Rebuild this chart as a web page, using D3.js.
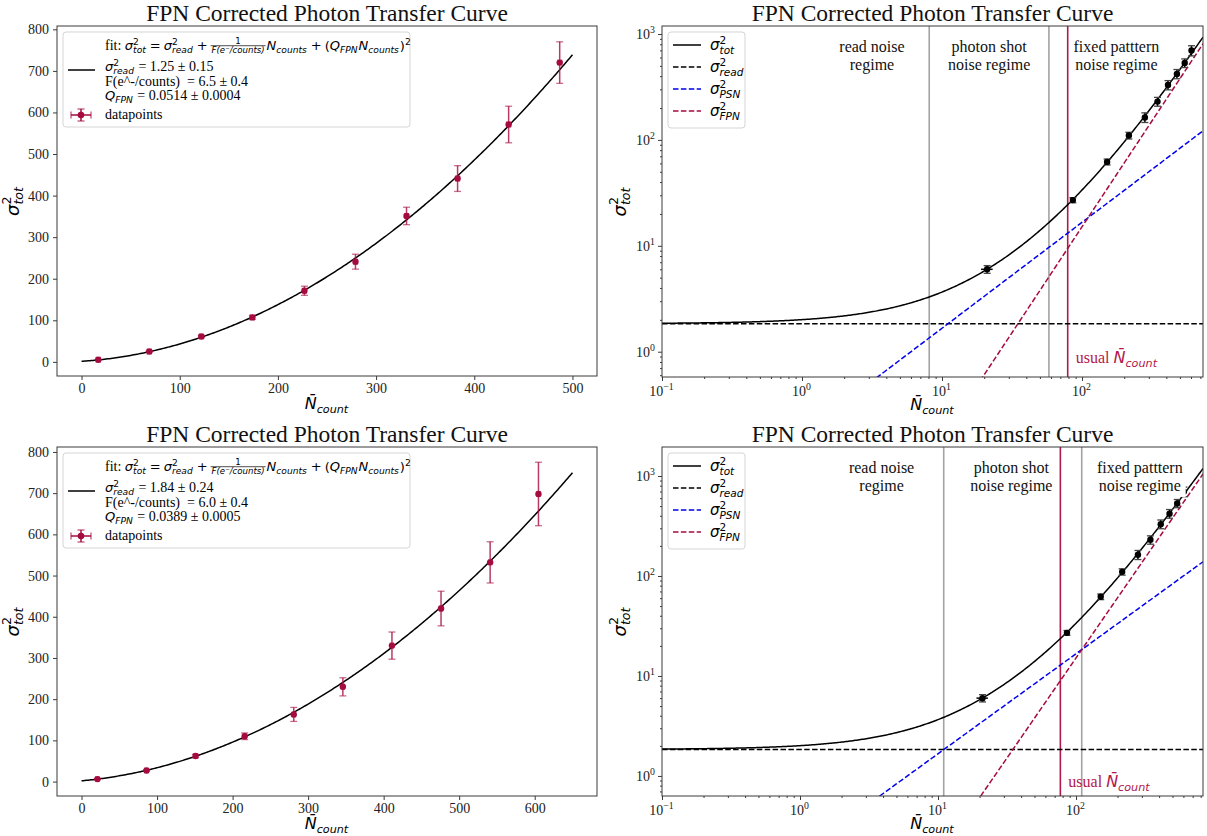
<!DOCTYPE html>
<html><head><meta charset="utf-8">
<script src="https://cdn.jsdelivr.net/npm/d3@7"></script>
<style>body{margin:0;background:#fff;} svg{display:block}</style>
</head><body><svg id="c" width="1207" height="836"></svg>
<script>
// ---------------- data ----------------
const nTop   = [17, 69, 122, 174, 227, 279, 331, 383, 435, 487];
const varTop = [5, 25, 61, 107, 171, 241, 351, 441, 571, 720];
const errTop = [0.5, 1.5, 3, 5, 11, 18, 21, 31, 44, 50];
const nBot   = [21, 86, 151, 216, 281, 346, 411, 476, 541, 605];
const varBot = [6, 27, 62, 110, 163, 230, 330, 420, 532, 698];
const errBot = [0.5, 1.5, 4, 8, 17, 22, 33, 42, 50, 77];
const xErr   = [2, 2, 2, 2, 2, 2, 2, 2, 2, 2];
const readVar = [1.25, 1.84];
const gain    = [6.5, 6.0];
const qFpn    = [0.0514, 0.0389];
const readTxt = ["1.25 ± 0.15", "1.84 ± 0.24"];
const gainTxt = ["6.5 ± 0.4", "6.0 ± 0.4"];
const qTxt    = ["0.0514 ± 0.0004", "0.0389 ± 0.0005"];
const fitMax  = [500, 650];
const regimeBounds = [[8.1, 58], [11.0, 110]];
const usualN = [79, 77];
const usualLabelY = 0.78;
const regimeLabels = [["read noise", "regime"], ["photon shot", "noise regime"], ["fixed patttern", "noise regime"]];
const regimeLabelX = [[3.16, 21.7, 176], [3.9, 34, 290]];
const linTicksY = [0, 100, 200, 300, 400, 500, 600, 700, 800];
const linTicksX = [[0, 100, 200, 300, 400, 500], [0, 100, 200, 300, 400, 500, 600]];
const logExpX = [-1, 0, 1, 2];
const logExpY = [0, 1, 2, 3];
const titleText = "FPN Corrected Photon Transfer Curve";

// ---------------- setup ----------------
const svg = d3.select('#c');
const SERIF = "'Liberation Serif', 'Times New Roman', serif";
const MATH = "'DejaVu Sans', sans-serif";
const CRIM = '#a50b3e';
const TICK = 14;
const P = {
  TL: {l: 57, r: 597, t: 26, b: 376},
  BL: {l: 57, r: 597, t: 447, b: 796},
  TR: {l: 662, r: 1203, t: 26, b: 377},
  BR: {l: 662, r: 1203, t: 447, b: 796}
};

function rich(parent, x, y, items, size, opts = {}) {
  const g = parent.append('g');
  if (opts.fill) g.attr('fill', opts.fill);
  let cx = 0;
  const put = (t, px, py, sz, f) => g.append('text').attr('x', px).attr('y', py)
      .style('font-family', f === 's' ? SERIF : MATH)
      .style('font-style', f === 'i' ? 'italic' : 'normal')
      .style('font-size', sz + 'px').style('white-space', 'pre').text(t);
  const len = e => e.node().getComputedTextLength();
  for (const it of items) {
    if (it.gap) cx += it.gap;
    const sz = size * (it.k || 1);
    if (it.t !== undefined) cx += len(put(it.t, cx, 0, sz, it.f || 's'));
    if (it.sup !== undefined || it.sub !== undefined) {
      let w = 0;
      if (it.sup !== undefined) w = Math.max(w, len(put(it.sup, cx, -0.42 * sz, sz * 0.7, it.sf || 'r')));
      if (it.sub !== undefined) w = Math.max(w, len(put(it.sub, cx, 0.24 * sz, sz * 0.7, 'i')));
      cx += w + 1;
    }
    if (it.frac) {
      const fs = sz * 0.66;
      const en = put(it.frac[0], 0, -0.5 * sz, fs, 'r');
      const ed = put(it.frac[1], 0, 0.22 * sz, fs, 'i');
      const wn = len(en), wd = len(ed), W = Math.max(wn, wd) + 2;
      en.attr('x', cx + (W - wn) / 2);
      ed.attr('x', cx + (W - wd) / 2);
      g.append('line').attr('x1', cx).attr('x2', cx + W).attr('y1', -0.33 * sz).attr('y2', -0.33 * sz)
        .attr('stroke', '#000').attr('stroke-width', 0.7);
      cx += W + 1;
    }
  }
  const dx = opts.anchor === 'middle' ? cx / 2 : opts.anchor === 'end' ? cx : 0;
  g.attr('transform', `translate(${x},${y}) rotate(${opts.rot || 0}) translate(${-dx},0)`);
  return {g, width: cx};
}

function frame(p) {
  svg.append('rect').attr('x', p.l).attr('y', p.t).attr('width', p.r - p.l).attr('height', p.b - p.t)
    .attr('fill', 'none').attr('stroke', '#3a3a3a').attr('stroke-width', 1);
}
function clip(id, p) {
  svg.append('clipPath').attr('id', id).append('rect').attr('x', p.l).attr('y', p.t)
    .attr('width', p.r - p.l).attr('height', p.b - p.t);
}
function styleAxis(g) {
  g.select('.domain').remove();
  g.selectAll('.tick line').attr('stroke', '#3a3a3a');
  g.selectAll('text').style('font-family', SERIF).style('font-size', TICK + 'px').attr('fill', '#222');
}
function title(p) {
  svg.append('text').attr('x', (p.l + p.r) / 2).attr('y', p.t - 5).attr('text-anchor', 'middle')
    .style('font-family', SERIF).style('font-size', '23.5px').attr('fill', '#111').text(titleText);
}
function axisLabels(p, ylx) {
  rich(svg, (p.l + p.r) / 2, p.b + 33, [{t: 'N\u0304', f: 'i'}, {sub: 'count'}], 16, {anchor: 'middle'});
  rich(svg, ylx, (p.t + p.b) / 2, [{t: 'σ', f: 'i'}, {sup: '2', sub: 'tot'}], 18, {anchor: 'middle', rot: -90});
}

// ---------------- linear panels ----------------
function linPanel(p, idx, xd, yd, N, V, E) {
  const x = d3.scaleLinear().domain(xd).range([p.l, p.r]);
  const y = d3.scaleLinear().domain(yd).range([p.b, p.t]);
  const ax = svg.append('g').attr('transform', `translate(0,${p.b})`)
    .call(d3.axisBottom(x).tickValues(linTicksX[idx]).tickSize(4).tickPadding(3).tickFormat(d3.format('d')));
  styleAxis(ax);
  const ay = svg.append('g').attr('transform', `translate(${p.l},0)`)
    .call(d3.axisLeft(y).tickValues(linTicksY).tickSize(4).tickPadding(4).tickFormat(d3.format('d')));
  styleAxis(ay);
  const f = n => readVar[idx] + n / gain[idx] + Math.pow(qFpn[idx] * n, 2);
  const grid = d3.range(0, 301).map(i => i * fitMax[idx] / 300);
  svg.append('path').datum(grid).attr('fill', 'none').attr('stroke', '#000').attr('stroke-width', 1.5)
    .attr('d', d3.line().x(d => x(d)).y(d => y(f(d))));
  const g = svg.append('g');
  N.forEach((n, i) => {
    const cx = x(n), cy = y(V[i]);
    const y1 = y(V[i] - E[i]), y2 = y(V[i] + E[i]);
    const x1 = x(n - xErr[i]), x2 = x(n + xErr[i]);
    g.append('line').attr('x1', cx).attr('x2', cx).attr('y1', y1).attr('y2', y2).attr('stroke', CRIM).attr('stroke-width', 1.5).attr('stroke-opacity', 0.8);
    g.append('line').attr('x1', x1).attr('x2', x2).attr('y1', cy).attr('y2', cy).attr('stroke', CRIM).attr('stroke-width', 1.5).attr('stroke-opacity', 0.8);
    [y1, y2].forEach(yy => g.append('line').attr('x1', cx - 3.5).attr('x2', cx + 3.5).attr('y1', yy).attr('y2', yy).attr('stroke', CRIM).attr('stroke-width', 1.3).attr('stroke-opacity', 0.6));
    [x1, x2].forEach(xx => g.append('line').attr('x1', xx).attr('x2', xx).attr('y1', cy - 3).attr('y2', cy + 3).attr('stroke', CRIM).attr('stroke-width', 1.2).attr('stroke-opacity', 0.6));
    g.append('circle').attr('cx', cx).attr('cy', cy).attr('r', 3.2).attr('fill', CRIM);
  });
  frame(p);
  title(p);
  axisLabels(p, 19);
  const lx = p.l + 6, ly = p.t + 6;
  svg.append('rect').attr('x', lx).attr('y', ly).attr('width', 347).attr('height', 95).attr('rx', 3)
    .attr('fill', '#fff').attr('fill-opacity', 0.8).attr('stroke', '#d5d5d5');
  svg.append('line').attr('x1', lx + 5).attr('x2', lx + 32).attr('y1', ly + 38).attr('y2', ly + 38).attr('stroke', '#000').attr('stroke-width', 1.5);
  const hx = lx + 18, hy = ly + 83;
  svg.append('line').attr('x1', hx).attr('x2', hx).attr('y1', hy - 6).attr('y2', hy + 6).attr('stroke', CRIM).attr('stroke-width', 1.5);
  svg.append('line').attr('x1', hx - 10).attr('x2', hx + 10).attr('y1', hy).attr('y2', hy).attr('stroke', CRIM).attr('stroke-width', 1.5);
  [hy - 6, hy + 6].forEach(yy => svg.append('line').attr('x1', hx - 3.5).attr('x2', hx + 3.5).attr('y1', yy).attr('y2', yy).attr('stroke', CRIM).attr('stroke-opacity', 0.7).attr('stroke-width', 1.3));
  [hx - 10, hx + 10].forEach(xx => svg.append('line').attr('x1', xx).attr('x2', xx).attr('y1', hy - 3.5).attr('y2', hy + 3.5).attr('stroke', CRIM).attr('stroke-opacity', 0.7).attr('stroke-width', 1.3));
  svg.append('circle').attr('cx', hx).attr('cy', hy).attr('r', 3.3).attr('fill', CRIM);
  const tx = lx + 42, fs = 14, mk = 0.93;
  rich(svg, tx, ly + 18, [
    {t: 'fit: ', f: 's'}, {t: 'σ', f: 'i', k: mk}, {sup: '2', sub: 'tot', k: mk}, {gap: 3}, {t: '=', f: 'r', k: mk}, {gap: 3},
    {t: 'σ', f: 'i', k: mk}, {sup: '2', sub: 'read', k: mk}, {gap: 3}, {t: '+', f: 'r', k: mk}, {gap: 3},
    {frac: ['1', 'F(e⁻/counts)'], k: mk}, {t: 'N', f: 'i', k: mk}, {sub: 'counts', k: mk}, {gap: 3}, {t: '+', f: 'r', k: mk}, {gap: 3}, {t: '(', f: 'r', k: mk},
    {t: 'Q', f: 'i', k: mk}, {sub: 'FPN', k: mk}, {t: 'N', f: 'i', k: mk}, {sub: 'counts', k: mk}, {t: ')', f: 'r', k: mk}, {sup: '2', k: mk}
  ], fs);
  rich(svg, tx, ly + 39, [{t: 'σ', f: 'i', k: mk}, {sup: '2', sub: 'read', k: mk}, {t: ' = ' + readTxt[idx], f: 's'}], fs);
  rich(svg, tx, ly + 54, [{t: 'F(e^-/counts)  = ' + gainTxt[idx], f: 's'}], fs);
  rich(svg, tx, ly + 68, [{t: 'Q', f: 'i', k: mk}, {sub: 'FPN', k: mk}, {t: ' = ' + qTxt[idx], f: 's'}], fs);
  rich(svg, tx, ly + 87, [{t: 'datapoints', f: 's'}], fs);
}

// ---------------- log panels ----------------
function logPanel(p, idx, xd, yd, cid) {
  const x = d3.scaleLog().domain(xd).range([p.l, p.r]);
  const y = d3.scaleLog().domain(yd).range([p.b, p.t]);
  clip(cid, p);
  const minorX = [], minorY = [];
  for (let e = -2; e <= 3; e++) for (let m = 2; m <= 9; m++) {
    const v = m * Math.pow(10, e);
    if (v >= xd[0] && v <= xd[1]) minorX.push(v);
    if (v >= yd[0] && v <= yd[1]) minorY.push(v);
  }
  const majX = logExpX.map(e => Math.pow(10, e));
  const majY = logExpY.map(e => Math.pow(10, e));
  [[majX, 4], [minorX, 2]].forEach(([vals, s]) => {
    const a = svg.append('g').attr('transform', `translate(0,${p.b})`).call(d3.axisBottom(x).tickValues(vals).tickSize(s).tickFormat(''));
    styleAxis(a);
  });
  [[majY, 4], [minorY, 2]].forEach(([vals, s]) => {
    const a = svg.append('g').attr('transform', `translate(${p.l},0)`).call(d3.axisLeft(y).tickValues(vals).tickSize(s).tickFormat(''));
    styleAxis(a);
  });
  const expStr = e => e < 0 ? '−' + (-e) : '' + e;
  logExpX.forEach(e => rich(svg, x(Math.pow(10, e)), p.b + 19, [{t: '10', f: 's'}, {sup: expStr(e), sf: 's'}], TICK, {anchor: 'middle', fill: '#222'}));
  logExpY.forEach(e => rich(svg, p.l - 6, y(Math.pow(10, e)) + 5, [{t: '10', f: 's'}, {sup: expStr(e), sf: 's'}], TICK, {anchor: 'end', fill: '#222'}));

  const gc = svg.append('g').attr('clip-path', `url(#${cid})`);
  regimeBounds[idx].forEach(v => gc.append('line').attr('x1', x(v)).attr('x2', x(v)).attr('y1', p.t).attr('y2', p.b)
    .attr('stroke', '#a3a3a3').attr('stroke-width', 1.6));
  gc.append('line').attr('x1', x(usualN[idx])).attr('x2', x(usualN[idx])).attr('y1', p.t).attr('y2', p.b)
    .attr('stroke', '#b3174b').attr('stroke-width', 1.6);
  const k = 1;
  const lg = d3.range(0, 401).map(i => Math.pow(10, Math.log10(xd[0]) + i * (Math.log10(xd[1]) - Math.log10(xd[0])) / 400));
  const ln = fn => d3.line().x(d => x(d)).y(d => y(Math.max(fn(d), 1e-6)));
  gc.append('path').datum(lg).attr('fill', 'none').attr('stroke', '#000').attr('stroke-width', 1.5).attr('stroke-dasharray', '5.5,2.4')
    .attr('d', ln(() => readVar[k]));
  gc.append('path').datum(lg).attr('fill', 'none').attr('stroke', '#0000ee').attr('stroke-width', 1.5).attr('stroke-dasharray', '5.5,2.4')
    .attr('d', ln(n => n / gain[k]));
  gc.append('path').datum(lg).attr('fill', 'none').attr('stroke', CRIM).attr('stroke-width', 1.5).attr('stroke-dasharray', '5.5,2.4')
    .attr('d', ln(n => Math.pow(qFpn[k] * n, 2)));
  gc.append('path').datum(lg).attr('fill', 'none').attr('stroke', '#000').attr('stroke-width', 1.5)
    .attr('d', ln(n => readVar[k] + n / gain[k] + Math.pow(qFpn[k] * n, 2)));
  nBot.forEach((n, i) => {
    const cx = x(n), cy = y(varBot[i]);
    const y1 = y(varBot[i] - errBot[i]), y2 = y(varBot[i] + errBot[i]);
    gc.append('line').attr('x1', cx).attr('x2', cx).attr('y1', y1).attr('y2', y2).attr('stroke', '#000').attr('stroke-width', 1.5);
    gc.append('line').attr('x1', x(n - xErr[i])).attr('x2', x(n + xErr[i])).attr('y1', cy).attr('y2', cy).attr('stroke', '#000').attr('stroke-width', 1.5);
    [y1, y2].forEach(yy => gc.append('line').attr('x1', cx - 3.5).attr('x2', cx + 3.5).attr('y1', yy).attr('y2', yy).attr('stroke', '#444').attr('stroke-width', 1.3));
    gc.append('circle').attr('cx', cx).attr('cy', cy).attr('r', 3.2).attr('fill', '#000');
  });
  regimeLabels.forEach((lab, j) => {
    const cx = x(regimeLabelX[idx][j]);
    const cy = p.t + 0.06 * (p.b - p.t);
    const t1 = svg.append('text').attr('x', cx).attr('y', cy + 5).attr('text-anchor', 'middle')
      .style('font-family', SERIF).style('font-size', '16px').attr('fill', '#111').text(lab[0]);
    const t2 = svg.append('text').attr('x', cx).attr('y', cy + 23).attr('text-anchor', 'middle')
      .style('font-family', SERIF).style('font-size', '16px').attr('fill', '#111').text(lab[1]);
    const w = Math.max(t1.node().getComputedTextLength(), t2.node().getComputedTextLength());
    svg.insert('rect', () => t1.node()).attr('x', cx - w / 2 - 3).attr('y', cy - 10).attr('width', w + 6).attr('height', 39).attr('fill', '#fff');
  });
  rich(svg, x(usualN[idx]) + 8, y(usualLabelY), [{t: 'usual ', f: 's'}, {t: 'N\u0304', f: 'i'}, {sub: 'count'}], 16, {fill: '#b3174b'});
  frame(p);
  title(p);
  axisLabels(p, 626);
  const lx = p.l + 6, ly = p.t + 6;
  svg.append('rect').attr('x', lx).attr('y', ly).attr('width', 77).attr('height', 96).attr('rx', 3)
    .attr('fill', '#fff').attr('fill-opacity', 0.8).attr('stroke', '#d5d5d5');
  const ent = [['#000', null, 'tot'], ['#000', '5.5,2.4', 'read'], ['#0000ee', '5.5,2.4', 'PSN'], [CRIM, '5.5,2.4', 'FPN']];
  ent.forEach((e, j) => {
    const cy = ly + 13 + j * 22;
    const l = svg.append('line').attr('x1', lx + 5).attr('x2', lx + 33).attr('y1', cy).attr('y2', cy).attr('stroke', e[0]).attr('stroke-width', 1.5);
    if (e[1]) l.attr('stroke-dasharray', e[1]);
    rich(svg, lx + 42, cy + 5, [{t: 'σ', f: 'i'}, {sup: '2', sub: e[2]}], 15);
  });
}

linPanel(P.TL, 0, [-25, 525], [-34, 808], nTop, varTop, errTop);
linPanel(P.BL, 1, [-32.5, 682.5], [-35, 812], nBot, varBot, errBot);
logPanel(P.TR, 0, [0.1, 731], [0.577, 1190], 'clipTR');
logPanel(P.BR, 1, [0.1, 832], [0.63, 1950], 'clipBR');
</script></body></html>
